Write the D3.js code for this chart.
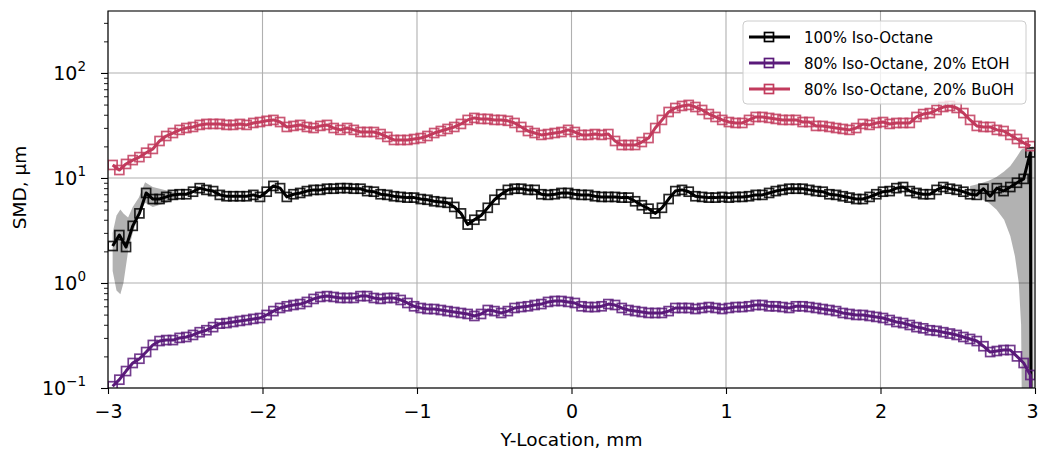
<!DOCTYPE html>
<html>
<head>
<meta charset="utf-8">
<script src="https://cdn.jsdelivr.net/npm/d3@7"></script>
<style>
  body { margin: 0; background: #fff; }
  text { font-family: "DejaVu Sans", sans-serif; }
</style>
</head>
<body>
<div id="canvas"></div>
<script>
// sample positions, mm
var xs = d3.range(138).map(function (i) { return -2.97 + i * 5.94 / 137; });
xs.push(2.975);

// SMD values, um
var isoOctane = [2.25, 2.86, 2.2, 3.5, 4.6, 7.2, 6.3, 6.3, 6.6, 6.9,
  7.0, 7.0, 7.4, 8.0, 7.7, 7.5, 6.9, 6.7, 6.7, 6.7,
  6.7, 6.9, 6.6, 7.4, 8.4, 8.0, 6.6, 7.0, 7.2, 7.5,
  7.7, 7.7, 7.9, 7.9, 8.0, 8.0, 7.9, 7.9, 7.5, 7.4,
  7.0, 6.9, 6.7, 6.6, 6.5, 6.5, 6.3, 6.2, 6.0, 5.9,
  5.8, 5.3, 4.6, 3.6, 4.0, 4.4, 5.2, 6.2, 7.0, 7.7,
  7.9, 7.9, 7.7, 7.7, 7.0, 6.9, 7.0, 7.2, 7.2, 7.0,
  6.9, 6.9, 6.7, 6.6, 6.6, 6.6, 6.5, 6.5, 6.0, 5.5,
  5.1, 4.6, 5.2, 6.3, 7.5, 7.7, 7.4, 6.7, 6.6, 6.5,
  6.5, 6.6, 6.5, 6.6, 6.6, 6.7, 6.9, 6.9, 7.2, 7.5,
  7.7, 7.9, 7.9, 7.9, 7.7, 7.5, 7.4, 7.0, 6.9, 6.7,
  6.5, 6.3, 6.3, 6.6, 7.0, 7.4, 7.5, 8.0, 8.2, 7.5,
  7.2, 7.0, 7.0, 7.7, 8.2, 7.9, 7.7, 7.4, 7.0, 6.9,
  7.9, 6.7, 8.0, 7.5, 8.2, 9.0, 9.8, 17.5, 0.02];

var etoh = [0.104, 0.12, 0.145, 0.173, 0.19, 0.22, 0.257, 0.28, 0.286, 0.286,
  0.30, 0.306, 0.32, 0.34, 0.355, 0.38, 0.41, 0.415, 0.425, 0.435,
  0.444, 0.455, 0.464, 0.496, 0.54, 0.578, 0.60, 0.617, 0.63, 0.66,
  0.705, 0.736, 0.75, 0.736, 0.72, 0.72, 0.72, 0.75, 0.75, 0.72,
  0.705, 0.72, 0.72, 0.689, 0.645, 0.60, 0.578, 0.565, 0.565, 0.553,
  0.54, 0.529, 0.518, 0.507, 0.485, 0.507, 0.553, 0.54, 0.518, 0.54,
  0.578, 0.59, 0.60, 0.617, 0.63, 0.66, 0.674, 0.674, 0.66, 0.645,
  0.60, 0.59, 0.59, 0.60, 0.63, 0.617, 0.578, 0.553, 0.54, 0.529,
  0.518, 0.518, 0.518, 0.54, 0.578, 0.578, 0.578, 0.565, 0.578, 0.59,
  0.578, 0.565, 0.578, 0.59, 0.59, 0.60, 0.617, 0.617, 0.60, 0.60,
  0.59, 0.578, 0.60, 0.60, 0.59, 0.578, 0.565, 0.553, 0.54, 0.518,
  0.507, 0.496, 0.496, 0.485, 0.475, 0.464, 0.444, 0.425, 0.415, 0.398,
  0.38, 0.37, 0.355, 0.35, 0.34, 0.33, 0.32, 0.306, 0.293, 0.28,
  0.25, 0.22, 0.225, 0.23, 0.23, 0.20, 0.173, 0.133, 0.02];

var buoh = [13.3, 11.9, 13.6, 14.8, 15.8, 17.4, 18.9, 22.5, 25.1, 26.8,
  28.7, 29.9, 30.6, 32, 32.7, 32.7, 32.7, 32, 32, 32.7,
  32, 33.4, 34.1, 35, 35.7, 34.1, 30.6, 31.3, 32, 30.6,
  29.9, 31.3, 32, 29.9, 28.7, 29.9, 28.7, 27.4, 27.4, 27.4,
  26.2, 24.6, 23, 23, 23, 23.5, 24, 25.1, 26.8, 28,
  29.3, 30.6, 32.7, 35.7, 37.3, 36.5, 36.5, 35.7, 35.7, 35,
  33.4, 30.6, 28, 26.8, 25.7, 26.2, 26.8, 27.4, 28.7, 27.4,
  25.7, 25.7, 26.2, 25.7, 26.2, 22.5, 20.6, 20.6, 20.6, 22,
  24, 29.9, 35.7, 42.5, 46.4, 48.5, 49.6, 47.4, 44.4, 40.6,
  38.1, 35.7, 34.1, 33.4, 33.4, 35.7, 38.1, 38.1, 37.3, 36.5,
  35.7, 35.7, 35.7, 34.1, 34.1, 31.3, 31.3, 30.6, 29.9, 29.3,
  28.7, 29.9, 32.7, 32, 33.4, 34.1, 32.7, 33.4, 33.4, 33.4,
  38.1, 40.6, 41.5, 44.4, 47.4, 48.5, 46.4, 41.5, 35.7, 31.3,
  30.6, 30.6, 28.7, 28, 25.7, 23.5, 21.6, 20.1, null];

// spread of the iso-octane measurement near the edges
var bandLeftX  = [-2.97, -2.945, -2.92, -2.90, -2.87, -2.84, -2.80, -2.76, -2.71, -2.62, -2.55];
var bandLeftLo = [1.3, 0.85, 0.78, 1.0, 2.0, 3.0, 4.5, 5.8, 5.3, 5.8, 6.4];
var bandLeftHi = [3.0, 4.4, 5.0, 4.6, 4.2, 5.3, 6.5, 9.1, 8.2, 7.6, 7.2];
var bandRightX  = [2.58, 2.64, 2.70, 2.75, 2.80, 2.84, 2.87, 2.895, 2.91, 2.92, 2.99];
var bandRightLo = [7.0, 6.4, 5.8, 5.0, 4.0, 2.8, 1.8, 1.0, 0.4, 0.01, 0.01];
var bandRightHi = [8.4, 8.8, 9.4, 10.2, 11.5, 13, 15, 17, 18.5, 19, 20];

var seriesNames = ["100% Iso-Octane", "80% Iso-Octane, 20% EtOH", "80% Iso-Octane, 20% BuOH"];
var seriesColors = ["#000000", "#5a1a7a", "#c23b5d"];
var seriesValues = [isoOctane, etoh, buoh];

var xTicks = [-3, -2, -1, 0, 1, 2, 3];
var yTicks = [0.1, 1, 10, 100];
var yTickExp = ["\u22121", "0", "1", "2"];

const margin = {top: 11, right: 3, bottom: 66, left: 108};
const width = 1038 - margin.left - margin.right;
const height = 454 - margin.top - margin.bottom;

const svg = d3.select("#canvas")
  .append("svg")
    .attr("width", 1038)
    .attr("height", 454)
  .append("g")
    .attr("transform", "translate(" + margin.left + "," + margin.top + ")");

const x = d3.scaleLinear().domain([-3, 3]).range([0, width]);
const y = d3.scaleLog().domain([0.1, Math.pow(10, 2.59)]).range([height, 0]);

svg.append("clipPath").attr("id", "clip")
  .append("rect").attr("width", width).attr("height", height);

// grid
svg.append("g").selectAll("line")
  .data(xTicks)
  .enter().append("line")
    .attr("x1", function (d) { return x(d); })
    .attr("x2", function (d) { return x(d); })
    .attr("y1", 0).attr("y2", height)
    .attr("stroke", "#b0b0b0").attr("stroke-width", 1.1);
svg.append("g").selectAll("line")
  .data(yTicks)
  .enter().append("line")
    .attr("y1", function (d) { return y(d); })
    .attr("y2", function (d) { return y(d); })
    .attr("x1", 0).attr("x2", width)
    .attr("stroke", "#b0b0b0").attr("stroke-width", 1.1);

const plot = svg.append("g").attr("clip-path", "url(#clip)");

// gray bands
function drawBand(bx, lo, hi) {
  var pts = bx.map(function (d, i) { return {x: d, lo: lo[i], hi: hi[i]}; });
  plot.append("path")
    .datum(pts)
    .attr("fill", "#000")
    .attr("fill-opacity", 0.3)
    .attr("d", d3.area()
      .x(function (d) { return x(d.x); })
      .y0(function (d) { return y(d.lo); })
      .y1(function (d) { return y(d.hi); }));
}
drawBand(bandLeftX, bandLeftLo, bandLeftHi);
drawBand(bandRightX, bandRightLo, bandRightHi);

// lines + square markers
const line = d3.line()
  .defined(function (d) { return d.v != null; })
  .x(function (d) { return x(d.x); })
  .y(function (d) { return y(d.v); });

seriesValues.forEach(function (vals, k) {
  var pts = xs.map(function (d, i) { return {x: d, v: vals[i]}; });
  plot.append("path")
    .datum(pts)
    .attr("fill", "none")
    .attr("stroke", seriesColors[k])
    .attr("stroke-width", 3)
    .attr("stroke-linejoin", "round")
    .attr("d", line);
  plot.append("g").selectAll("rect")
    .data(pts.filter(function (d) { return d.v != null; }))
    .enter().append("rect")
      .attr("x", function (d) { return x(d.x) - 4.5; })
      .attr("y", function (d) { return y(d.v) - 4.5; })
      .attr("width", 9).attr("height", 9)
      .attr("fill", "none")
      .attr("stroke", seriesColors[k])
      .attr("stroke-opacity", 0.85)
      .attr("stroke-width", 1.7);
});

// axes
const xAxis = svg.append("g")
  .attr("transform", "translate(0," + height + ")")
  .call(d3.axisBottom(x).tickValues(xTicks).tickSize(6).tickPadding(11).tickFormat(d3.format("d")));
xAxis.select(".domain").remove();
xAxis.selectAll("text").attr("font-size", 19).attr("font-family", "DejaVu Sans").attr("fill", "#000");
xAxis.selectAll("text").filter(function (d) { return d === 3; }).attr("dx", -3);
xAxis.selectAll("line").attr("stroke-width", 1.1);

var minor = [];
[0.1, 1, 10, 100].forEach(function (dec) {
  for (var m = 2; m <= 9; m++) { if (dec * m < Math.pow(10, 2.59)) minor.push(dec * m); }
});
const yMinor = svg.append("g")
  .call(d3.axisLeft(y).tickValues(minor).tickSize(4).tickFormat(""));
yMinor.select(".domain").remove();
yMinor.selectAll("line").attr("stroke-width", 0.9);

const yAxis = svg.append("g")
  .call(d3.axisLeft(y).tickValues(yTicks).tickSize(7).tickFormat(""));
yAxis.select(".domain").remove();
yAxis.selectAll("line").attr("stroke-width", 1.1);

const yLab = svg.append("g").selectAll("text")
  .data(yTicks)
  .enter().append("text")
    .attr("x", -22)
    .attr("y", function (d) { return y(d) + 7; })
    .attr("text-anchor", "end")
    .attr("font-size", 19);
yLab.append("tspan").text("10");
yLab.append("tspan")
  .attr("font-size", 13.5)
  .attr("dy", -9)
  .text(function (d, i) { return yTickExp[i]; });

// frame
svg.append("rect")
  .attr("width", width).attr("height", height)
  .attr("fill", "none").attr("stroke", "#000").attr("stroke-width", 1.1);

// axis titles
svg.append("text")
  .attr("x", width / 2).attr("y", height + 58)
  .attr("text-anchor", "middle").attr("font-size", 18.5)
  .text("Y-Location, mm");
svg.append("text")
  .attr("transform", "translate(" + (-82) + "," + (height / 2 - 12) + ") rotate(-90)")
  .attr("text-anchor", "middle").attr("font-size", 18.5)
  .text("SMD, \u03bcm");

// legend
const leg = svg.append("g").attr("transform", "translate(" + (743 - margin.left) + "," + (21 - margin.top) + ")");
leg.append("rect")
  .attr("width", 283).attr("height", 83).attr("rx", 4)
  .attr("fill", "#fff").attr("fill-opacity", 0.8)
  .attr("stroke", "#cccccc").attr("stroke-width", 1);
seriesNames.forEach(function (name, k) {
  var gy = 16 + k * 26;
  leg.append("line")
    .attr("x1", 6).attr("x2", 47).attr("y1", gy).attr("y2", gy)
    .attr("stroke", seriesColors[k]).attr("stroke-width", 3);
  leg.append("rect")
    .attr("x", 21.5).attr("y", gy - 4.5).attr("width", 9).attr("height", 9)
    .attr("fill", "none").attr("stroke", seriesColors[k]).attr("stroke-width", 1.7);
  leg.append("text")
    .attr("x", 61).attr("y", gy + 5.5)
    .attr("font-size", 15)
    .text(name);
});
</script>
</body>
</html>
